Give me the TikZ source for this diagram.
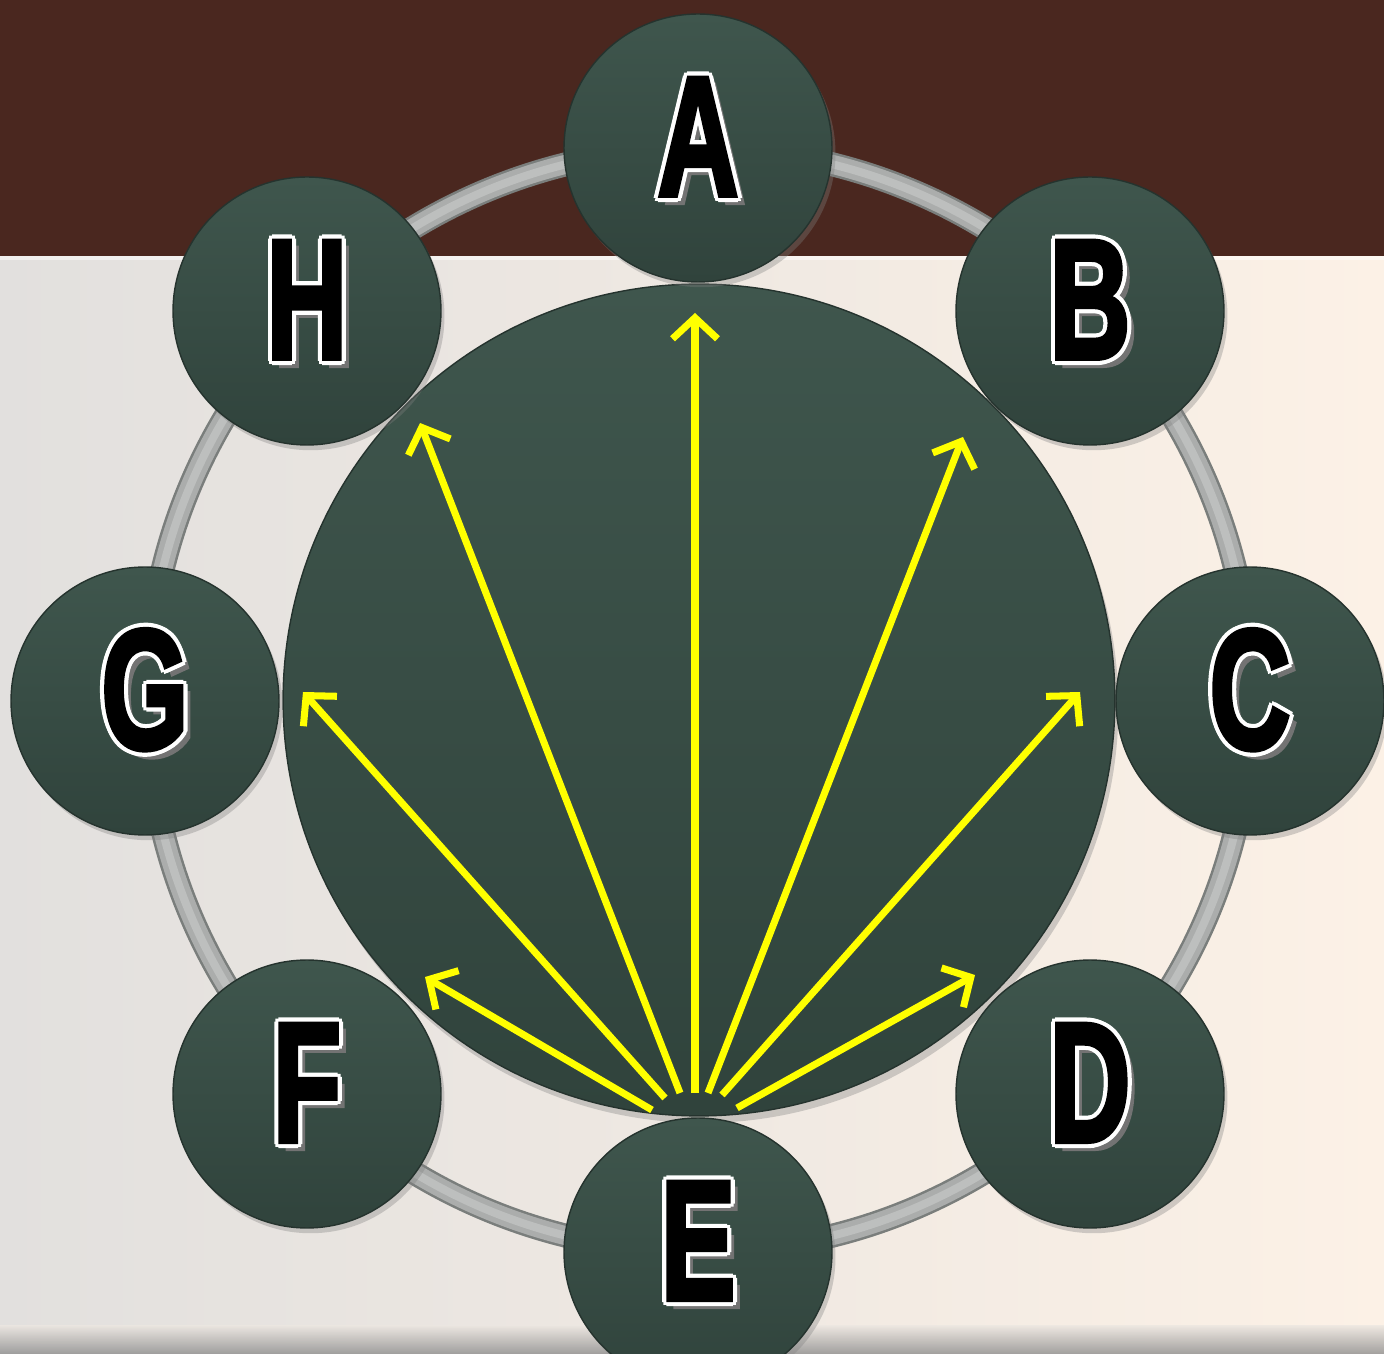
\documentclass[tikz,border=0pt]{standalone}
\usepackage{fontspec}
\setmainfont{Liberation Sans}
\newfontfamily\letfont[FakeBold=3]{Liberation Sans Bold}
\usetikzlibrary{arrows.meta,shadows}
\definecolor{brownbar}{HTML}{4A271F}
\definecolor{bgl}{HTML}{E2E0DE}
\definecolor{bgr}{HTML}{FCF1E6}
\definecolor{ringdark}{HTML}{7A7E7C}
\definecolor{ringmid}{HTML}{ABADAC}
\definecolor{ringlight}{HTML}{BDBFBE}
\definecolor{gtop}{HTML}{3F564D}
\definecolor{gbot}{HTML}{30433C}
\definecolor{gedge}{HTML}{25332E}
\definecolor{arrowyellow}{HTML}{FFFF00}
\newcommand\oshift[4]{\rlap{\kern#1\raise#2\hbox{\color{#3}#4}}}
\newcommand\olet[1]{\raisebox{-27pt}[0pt][0pt]{\letfont\fontsize{97}{97}\selectfont
  \oshift{4pt}{-4pt}{black!55}{\scalebox{0.66}[1]{#1}}%
  \oshift{2.4pt}{0pt}{white}{\scalebox{0.66}[1]{#1}}%
  \oshift{-2.4pt}{0pt}{white}{\scalebox{0.66}[1]{#1}}%
  \oshift{0pt}{2.4pt}{white}{\scalebox{0.66}[1]{#1}}%
  \oshift{0pt}{-2.4pt}{white}{\scalebox{0.66}[1]{#1}}%
  \oshift{1.7pt}{1.7pt}{white}{\scalebox{0.66}[1]{#1}}%
  \oshift{-1.7pt}{1.7pt}{white}{\scalebox{0.66}[1]{#1}}%
  \oshift{1.7pt}{-1.7pt}{white}{\scalebox{0.66}[1]{#1}}%
  \oshift{-1.7pt}{-1.7pt}{white}{\scalebox{0.66}[1]{#1}}%
  \hbox{\color{black}\scalebox{0.66}[1]{#1}}}}
\tikzset{
  letnode/.style={circle, minimum size=5.36cm, inner sep=0pt,
    top color=gtop, bottom color=gbot, draw=gedge, line width=0.8pt,
    drop shadow={opacity=0.35, shadow xshift=2pt, shadow yshift=-3pt}},
  hubnode/.style={circle, minimum size=16.64cm, inner sep=0pt,
    top color=gtop, bottom color=gbot, draw=gedge, line width=0.8pt,
    drop shadow={opacity=0.35, shadow xshift=2pt, shadow yshift=-4pt}},
  yarrow/.style={draw=arrowyellow, line width=4pt,
    -{Straight Barb[length=0.42cm,width=0.9cm]}}
}
\begin{document}
\begin{tikzpicture}[x=0.02cm,y=-0.02cm]
\useasboundingbox (0,0) rectangle (1384,1354);
% background
\shade[left color=bgl, right color=bgr] (0,250) rectangle (1384,1354);
\fill[brownbar] (0,0) rectangle (1384,256);
\fill[white, opacity=0.5] (0,256) rectangle (1384,260);
\shade[top color=bgl!60!bgr, bottom color=black!45, opacity=0.8] (0,1325) rectangle (1384,1354);
% ring
\draw[line width=0.48cm, ringdark] (699,700) circle[radius=11.04cm];
\draw[line width=0.38cm, ringmid] (699,700) circle[radius=11.04cm];
\draw[line width=0.16cm, ringlight] (699,700) circle[radius=11.04cm];
% hub
\node[hubnode] (hub) at (699,700) {};
% outer nodes
\node[letnode] (A) at (698,148) {\olet{A}};
\node[letnode] (B) at (1090,311) {\olet{B}};
\node[letnode] (C) at (1250,701) {\olet{C}};
\node[letnode] (D) at (1090,1094) {\olet{D}};
\node[letnode] (E) at (698,1252) {\olet{E}};
\node[letnode] (F) at (307,1094) {\olet{F}};
\node[letnode] (G) at (145,701) {\olet{G}};
\node[letnode] (H) at (307,311) {\olet{H}};
% arrow coordinates
\coordinate (s1) at (652,1110); \coordinate (e1) at (425,977);
\coordinate (s2) at (665,1098); \coordinate (e2) at (303,692);
\coordinate (s3) at (680,1093); \coordinate (e3) at (420,423);
\coordinate (s4) at (695,1093); \coordinate (e4) at (695,313);
\coordinate (s5) at (708,1093); \coordinate (e5) at (963,437);
\coordinate (s6) at (722,1095); \coordinate (e6) at (1080,692);
\coordinate (s7) at (737,1108); \coordinate (e7) at (975,975);
\foreach \i in {1,...,7} { \draw[yarrow] (s\i) -- (e\i); }
\end{tikzpicture}
\end{document}
